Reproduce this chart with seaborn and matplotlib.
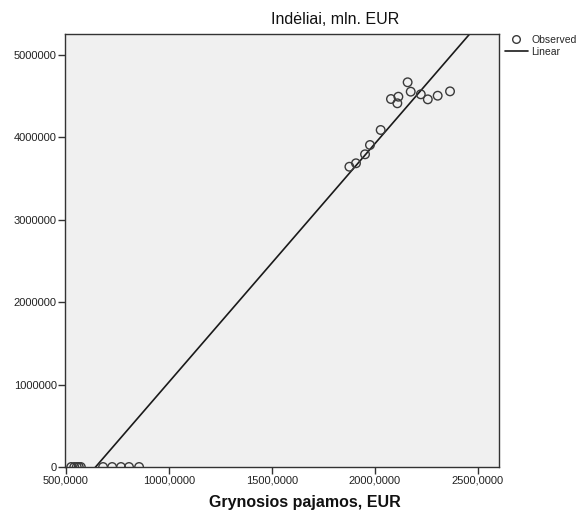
import numpy as np
import pandas as pd
import matplotlib
matplotlib.use("Agg")
import matplotlib.pyplot as plt
import seaborn as sns
from matplotlib.lines import Line2D

# Net income (EUR) and deposits (mln. EUR)
income = [525, 540, 552, 562, 572, 680, 724, 767, 806, 855,
          1877, 1909, 1953, 1977, 2029, 2079, 2115, 2110, 2160,
          2175, 2224, 2258, 2306, 2366]
deposits = [0, 0, 0, 0, 0, 0, 0, 0, 0, 0,
            3644000, 3686000, 3795000, 3908000, 4090000, 4466000, 4494000,
            4414000, 4669000, 4555000, 4523000, 4462000, 4506000, 4559000]

x_ticks = [500, 1000, 1500, 2000, 2500]
y_ticks = [0, 1000000, 2000000, 3000000, 4000000, 5000000]
x_limits = (495, 2604)
y_limits = (0, 5255000)

df = pd.DataFrame({"income": income, "deposits": deposits})

sns.set_theme(style="white")
plt.rcParams["font.family"] = ["Liberation Sans", "DejaVu Sans"]

fig = plt.figure(figsize=(5.86, 5.15), dpi=100)
ax = fig.add_axes([65 / 586, 1 - 467 / 515, 434 / 586, 433 / 515])
ax.set_facecolor("#f0f0f0")

sns.scatterplot(data=df, x="income", y="deposits", ax=ax, s=38,
                facecolor="none", edgecolor="#3a3a3a", linewidth=1.0,
                clip_on=True, zorder=3)

# Least-squares linear fit drawn across the whole x range
slope, intercept = np.polyfit(df["income"], df["deposits"], 1)
fit_x = np.array(x_limits, dtype=float)
fit = pd.DataFrame({"income": fit_x, "deposits": intercept + slope * fit_x})
sns.lineplot(data=fit, x="income", y="deposits", ax=ax, color="#1a1a1a",
             linewidth=1.2, zorder=2)

ax.set_xlim(*x_limits)
ax.set_ylim(*y_limits)
ax.set_xticks(x_ticks)
ax.set_xticklabels([f"{v},0000" for v in x_ticks])
ax.set_yticks(y_ticks)
ax.set_yticklabels([str(v) for v in y_ticks])
ax.tick_params(axis="both", direction="out", length=5, width=1,
               color="#333333", labelsize=8, labelcolor="#222222", pad=1,
               bottom=True, left=True)
for sp in ax.spines.values():
    sp.set_color("#333333")
    sp.set_linewidth(1.0)
ax.set_xlabel("")
ax.set_ylabel("")

fig.text(335 / 586, 1 - 20 / 515, "Indėliai, mln. EUR", ha="center",
         va="center", fontsize=11.5, color="#111111")
fig.text(305 / 586, 1 - 503 / 515, "Grynosios pajamos, EUR", ha="center",
         va="center", fontsize=11.5, fontweight="bold", color="#111111")

handles = [
    Line2D([], [], marker="o", linestyle="none", markerfacecolor="none",
           markeredgecolor="#3a3a3a", markersize=5.5, markeredgewidth=1.0),
    Line2D([], [], color="#1a1a1a", linewidth=1.2),
]
fig.legend(handles, ["Observed", "Linear"], loc="upper left",
           bbox_to_anchor=(505 / 586, 1 - 35 / 515), frameon=False,
           fontsize=7.5, handlelength=2.2, handletextpad=0.3,
           labelspacing=0.2, borderaxespad=0, borderpad=0)

fig.savefig("out.png", dpi=100, facecolor="white")
